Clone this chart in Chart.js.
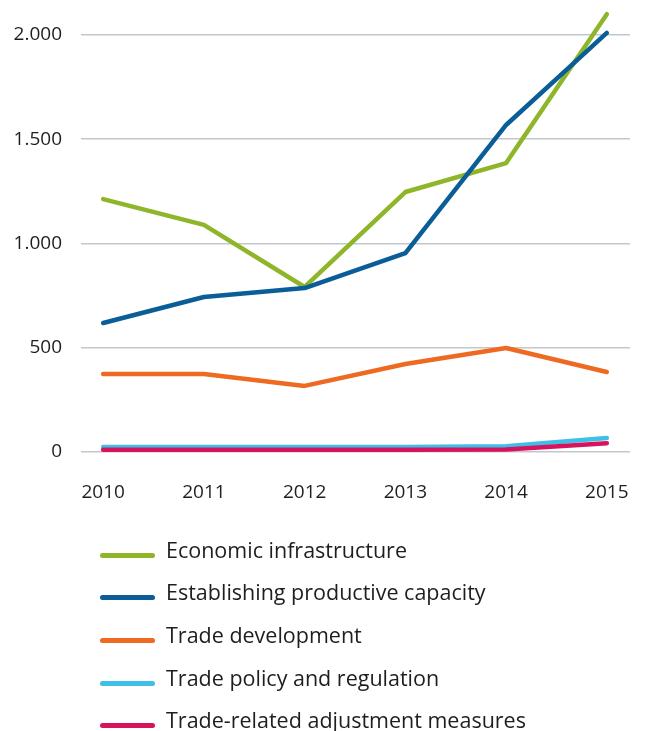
<!DOCTYPE html>
<html>
<head>
<meta charset="utf-8">
<script src="https://cdn.jsdelivr.net/npm/chart.js@4/dist/chart.umd.min.js"></script>
<style>
  html, body { margin: 0; padding: 0; background: #fff; overflow: hidden; }
  #wrap { position: relative; width: 646px; height: 731px; overflow: hidden; }
  #chartBox { position: absolute; left: 0; top: 0; width: 646px; height: 520px; }
  #legend { position: absolute; left: 0; top: 0; width: 646px; height: 731px; pointer-events: none; }
  .row { position: absolute; left: 100px; height: 40px; display: flex; align-items: center; }
  .swatch { width: 55px; height: 5px; border-radius: 3px; margin-right: 11px; position: relative; top: 3px; }
  .lbl { font-family: "Open Sans", sans-serif; font-size: 21.5px; color: #1e1e1e; white-space: nowrap; position: relative; top: -3px; }
</style>
</head>
<body>
<div id="wrap">
  <div id="chartBox"><canvas id="c"></canvas></div>
  <div id="legend"></div>
</div>
<script>
const years = [2010, 2011, 2012, 2013, 2014, 2015];
const economicInfrastructure = [1212, 1088, 790, 1246, 1385, 2100];
const productiveCapacity = [617, 742, 785, 953, 1568, 2010];
const tradeDevelopment = [372, 372, 315, 420, 497, 382];
const tradePolicy = [22, 22, 22, 22, 25, 65];
const adjustmentMeasures = [8, 8, 8, 8, 10, 40];
const seriesNames = [
  "Economic infrastructure",
  "Establishing productive capacity",
  "Trade development",
  "Trade policy and regulation",
  "Trade-related adjustment measures"
];
const seriesColors = ["#8fb62a", "#0b5d98", "#ee6a22", "#3dbfe8", "#d8135d"];
const yTicks = [0, 500, 1000, 1500, 2000];

const seriesValues = [economicInfrastructure, productiveCapacity, tradeDevelopment, tradePolicy, adjustmentMeasures];
const fmt = v => String(v).replace(/\B(?=(\d{3})+(?!\d))/g, ".");

const datasets = seriesValues.map((vals, i) => ({
  label: seriesNames[i],
  data: vals.map((v, j) => ({ x: years[j], y: v })),
  borderColor: seriesColors[i],
  backgroundColor: seriesColors[i],
  borderWidth: 4.5,
  pointRadius: 0,
  tension: 0,
  borderCapStyle: "round",
  borderJoinStyle: "round",
  clip: false
})).reverse();

new Chart(document.getElementById("c"), {
  type: "line",
  data: { datasets },
  options: {
    responsive: true,
    maintainAspectRatio: false,
    animation: false,
    layout: { padding: { top: 35, right: 16, left: 0, bottom: 0 } },
    plugins: { legend: { display: false }, tooltip: { enabled: false } },
    scales: {
      x: {
        type: "linear",
        min: 2009.78,
        max: 2015.23,
        border: { display: false },
        grid: { display: false, drawTicks: false },
        afterBuildTicks: s => { s.ticks = years.map(v => ({ value: v })); },
        afterFit: s => { s.height = 68.5; s.paddingLeft = 0; s.paddingRight = 0; },
        ticks: {
          padding: 30,
          color: "#1e1e1e",
          font: { family: "Open Sans", size: 19 },
          callback: v => String(v),
          maxRotation: 0,
          autoSkip: false
        }
      },
      y: {
        min: 0,
        max: 2000,
        border: { display: false },
        grid: { color: "#c3c7cb", lineWidth: 1.5, drawTicks: false },
        afterBuildTicks: s => { s.ticks = yTicks.map(v => ({ value: v })); },
        afterFit: s => { s.width = 81; s.paddingTop = 0; s.paddingBottom = 0; },
        ticks: {
          padding: 19,
          color: "#1e1e1e",
          font: { family: "Open Sans", size: 19 },
          callback: v => fmt(v)
        }
      }
    }
  }
});

const legendEl = document.getElementById("legend");
const rowCenters = [552, 594, 637, 680, 722];
seriesNames.forEach((name, i) => {
  const row = document.createElement("div");
  row.className = "row";
  row.style.top = (rowCenters[i] - 20) + "px";
  const sw = document.createElement("span");
  sw.className = "swatch";
  sw.style.background = seriesColors[i];
  const t = document.createElement("span");
  t.className = "lbl";
  t.textContent = name;
  row.appendChild(sw);
  row.appendChild(t);
  legendEl.appendChild(row);
});
</script>
</body>
</html>
